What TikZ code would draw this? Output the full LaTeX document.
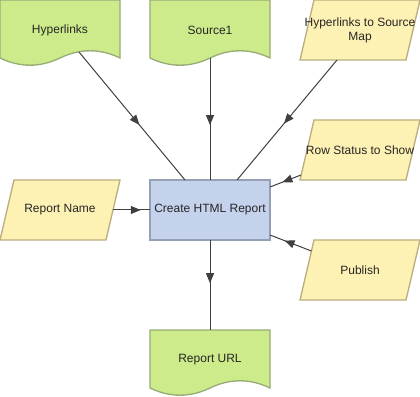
\documentclass[tikz,border=0pt]{standalone}
\usepackage{fontspec}
\setmainfont{Liberation Sans}
\usetikzlibrary{arrows.meta,positioning,calc,backgrounds,decorations.markings}
\definecolor{leaf}{RGB}{205,235,139}
\definecolor{leafline}{RGB}{152,172,118}
\definecolor{sand}{RGB}{254,241,180}
\definecolor{sandline}{RGB}{186,174,128}
\definecolor{steel}{RGB}{196,210,236}
\definecolor{steelline}{RGB}{150,160,180}
\definecolor{wire}{RGB}{64,64,64}
\tikzset{
  base/.style={minimum width=90pt,minimum height=45pt,inner sep=0pt,outer sep=0pt,align=center,text=black!85,font=\fontsize{9}{10.5}\selectfont},
  doc/.style={base},
  para/.style={base},
  proc/.style={base,draw=steelline,fill=steel,line width=1.5pt},
  docline/.style={draw=leafline,fill=leaf,line width=1pt},
  paraline/.style={draw=sandline,fill=sand,line width=1pt},
  arr/.style={draw=wire,line width=0.75pt,postaction={decorate},
    decoration={markings,mark=at position #1 with {\arrow{Triangle[length=7.5pt,width=6pt]}}}}
}

\begin{document}
\begin{tikzpicture}[x=0.75pt,y=0.75pt]
  \useasboundingbox (0,0) rectangle (420,396);
  \node[proc] (cr) at (210,186) {Create HTML Report};
  \node[para,left=22.5pt of cr] (rn) {Report Name};
  \node[doc,above=90pt of cr] (src) {Source1};
  \node[doc,left=22.5pt of src] (hl) {Hyperlinks};
  \node[para,right=22.5pt of src] (hsm) {Hyperlinks to Source\\Map};
  \node[para,below=45pt of hsm] (rs) {Row Status to Show};
  \node[para,below=45pt of rs] (pub) {Publish};
  \node[doc,below=67.5pt of cr] (url) {Report URL};
  % shape outlines behind the texts
  \begin{scope}[on background layer]
    \foreach \n in {hl,src,url}
      \draw[docline] (\n.north west) -- (\n.north east) -- ($(\n.south east)+(0,2)$)
        .. controls ($(\n.south east)+(-20,11.6)$) and ($(\n.south east)+(-40,11.6)$) .. ($(\n.south east)+(-60,2)$)
        .. controls ($(\n.south east)+(-80,-7.6)$) and ($(\n.south east)+(-100,-7.6)$) .. ($(\n.south west)+(0,2)$) -- cycle;
    \foreach \n in {rn,hsm,rs,pub}
      \draw[paraline] ($(\n.north west)+(14,0)$) -- (\n.north east) -- ($(\n.south east)+(-14,0)$) -- (\n.south west) -- cycle;
  \end{scope}
  \draw[arr=0.57] ($(hl.south west)+(79,8)$) -- ($(cr.north)+(-25,0)$);
  \draw[arr=0.55] ($(src.south)+(0,2)$) -- (cr.north);
  \draw[arr=0.53] ($(hsm.south west)+(37,0)$) -- ($(cr.north)+(27,0)$);
  \draw[arr=0.6] ($(rs.south west)+(1,5)$) -- ($(cr.north east)+(0,-7)$);
  \draw[arr=0.65] ($(pub.north west)+(11.4,-11)$) -- ($(cr.south east)+(0,5)$);
  \draw[arr=0.75] ($(rn.east)+(-7,0)$) -- (cr.west);
  \draw[arr=0.48] (cr.south) -- (url.north);
\end{tikzpicture}
\end{document}
